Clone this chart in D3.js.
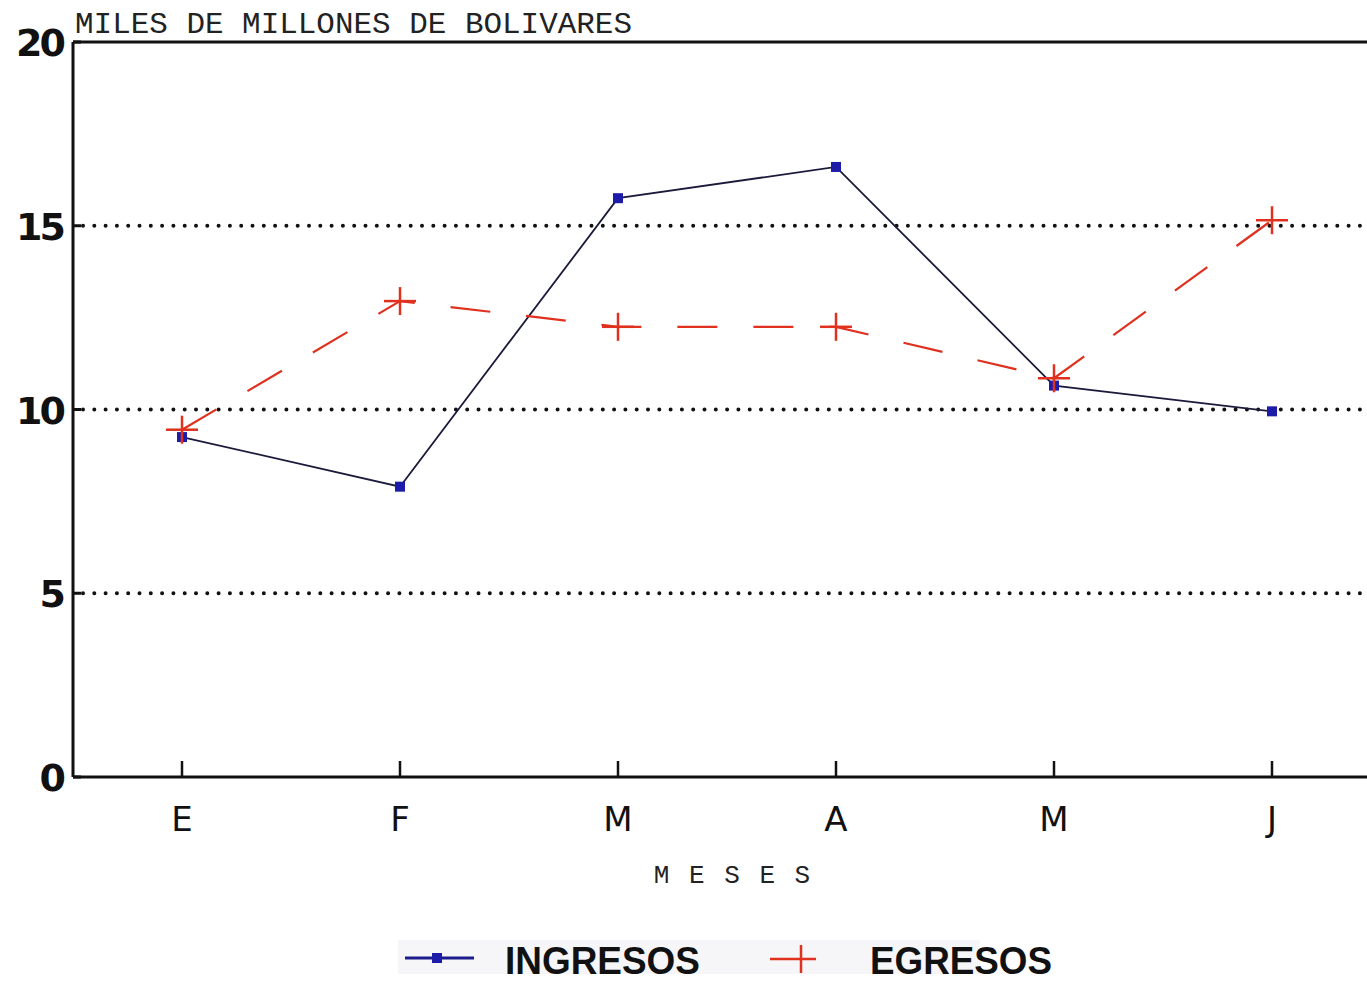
<!DOCTYPE html>
<html><head><meta charset="utf-8">
<script src="https://cdn.jsdelivr.net/npm/d3@7"></script>
<style>body{margin:0;background:#fff;}svg{display:block;}</style>
</head><body>
<script>
const months = ["E","F","M","A","M","J"];
const ingresos = [9.25, 7.9, 15.75, 16.6, 10.65, 9.95];
const egresos = [9.45, 12.95, 12.25, 12.25, 10.85, 15.15];
const yTicks = [0, 5, 10, 15, 20];
const gridValues = [5, 10, 15];
const seriesNames = ["INGRESOS", "EGRESOS"];

(function () {
const W = 1367, H = 983;
const svg = d3.select("body").append("svg").attr("width", W).attr("height", H);
const mLeft = 73, mTop = 42, mBottom = 777, rightEdge = 1381;

const x = d3.scalePoint().domain(d3.range(months.length)).range([mLeft, rightEdge]).padding(0.5);
const y = d3.scaleLinear().domain([0, 20]).range([mBottom, mTop]);

// grid lines
svg.append("g").selectAll("line").data(gridValues).join("line")
  .attr("x1", mLeft + 10).attr("x2", W).attr("y1", d => y(d)).attr("y2", d => y(d))
  .attr("stroke", "#111").attr("stroke-width", 4).attr("stroke-linecap", "round")
  .attr("stroke-dasharray", "0 11.3");

// axes frame
const axisG = svg.append("g").attr("stroke", "#111").attr("stroke-width", 3);
axisG.append("line").attr("x1", mLeft).attr("x2", mLeft).attr("y1", mTop).attr("y2", mBottom);
axisG.append("line").attr("x1", mLeft).attr("x2", W).attr("y1", mTop).attr("y2", mTop);
axisG.append("line").attr("x1", mLeft).attr("x2", W).attr("y1", mBottom).attr("y2", mBottom);

// y ticks (small inward marks)
svg.append("g").selectAll("line").data(yTicks).join("line")
  .attr("x1", mLeft).attr("x2", mLeft + 8).attr("y1", d => y(d)).attr("y2", d => y(d))
  .attr("stroke", "#111").attr("stroke-width", 3);
// y labels
svg.append("g").selectAll("text").data(yTicks).join("text")
  .attr("x", 63).attr("y", d => y(d) + 14).attr("text-anchor", "end")
  .attr("font-family", "DejaVu Sans").attr("font-weight", "bold").attr("font-size", 38)
  .attr("letter-spacing", -3).attr("fill", "#111").text(d => d);

// x ticks
svg.append("g").selectAll("line").data(months).join("line")
  .attr("x1", (d, i) => x(i)).attr("x2", (d, i) => x(i)).attr("y1", mBottom - 16).attr("y2", mBottom)
  .attr("stroke", "#111").attr("stroke-width", 2.5);
svg.append("g").selectAll("text").data(months).join("text")
  .attr("x", (d, i) => x(i)).attr("y", 831).attr("text-anchor", "middle")
  .attr("font-family", "DejaVu Sans").attr("font-size", 34).attr("fill", "#111").text(d => d);

// axis titles
svg.append("text").attr("x", 75).attr("y", 33)
  .attr("font-family", "Liberation Mono").attr("font-size", 29).attr("fill", "#222")
  .attr("textLength", 557).attr("lengthAdjust", "spacingAndGlyphs")
  .text("MILES DE MILLONES DE BOLIVARES");
svg.append("text").attr("x", 733).attr("y", 883).attr("text-anchor", "middle")
  .attr("font-family", "Liberation Mono").attr("font-size", 26).attr("letter-spacing", 2).attr("fill", "#222")
  .text("M E S E S");

// series lines
const line = d3.line().x((d, i) => x(i)).y(d => y(d));
svg.append("path").datum(ingresos).attr("d", line)
  .attr("fill", "none").attr("stroke", "#1a1a3a").attr("stroke-width", 1.8);
svg.append("path").datum(egresos).attr("d", line)
  .attr("fill", "none").attr("stroke", "#e0301e").attr("stroke-width", 2.2)
  .attr("stroke-dasharray", "40 36");

// markers
svg.append("g").selectAll("rect").data(ingresos).join("rect")
  .attr("x", (d, i) => x(i) - 5).attr("y", d => y(d) - 5).attr("width", 10).attr("height", 10)
  .attr("fill", "#1c1ca8");
const plus = svg.append("g").attr("stroke", "#e0301e").attr("stroke-width", 2.5);
plus.selectAll("line.h").data(egresos).join("line").attr("class", "h")
  .attr("x1", (d, i) => x(i) - 16).attr("x2", (d, i) => x(i) + 16).attr("y1", d => y(d)).attr("y2", d => y(d));
plus.selectAll("line.v").data(egresos).join("line").attr("class", "v")
  .attr("x1", (d, i) => x(i)).attr("x2", (d, i) => x(i)).attr("y1", d => y(d) - 14).attr("y2", d => y(d) + 14);

// legend
const lg = svg.append("g");
lg.append("rect").attr("x", 398).attr("y", 940).attr("width", 582).attr("height", 34).attr("fill", "#f6f6f8");
lg.append("line").attr("x1", 405).attr("x2", 474).attr("y1", 958).attr("y2", 958).attr("stroke", "#1c1c8c").attr("stroke-width", 3);
lg.append("rect").attr("x", 432).attr("y", 953).attr("width", 10).attr("height", 10).attr("fill", "#1c1ca8");
lg.append("line").attr("x1", 770).attr("x2", 816).attr("y1", 959).attr("y2", 959).attr("stroke", "#e0301e").attr("stroke-width", 2.5);
lg.append("line").attr("x1", 801).attr("x2", 801).attr("y1", 945).attr("y2", 973).attr("stroke", "#e0301e").attr("stroke-width", 2.5);
lg.selectAll("text").data(seriesNames).join("text")
  .attr("x", (d, i) => i === 0 ? 505 : 870).attr("y", 974)
  .attr("textLength", (d, i) => i === 0 ? 195 : 182).attr("lengthAdjust", "spacingAndGlyphs")
  .attr("font-family", "Liberation Sans").attr("font-weight", "bold").attr("font-size", 38)
  .attr("fill", "#111").text(d => d);
})();
</script>
</body></html>
